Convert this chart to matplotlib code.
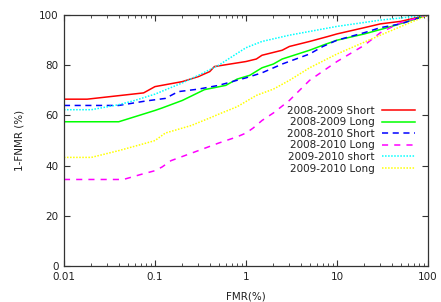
import matplotlib
matplotlib.use("Agg")
import matplotlib.pyplot as plt
from matplotlib.ticker import LogLocator, NullFormatter, FixedLocator

# FMR (%) vs 1-FNMR (%)
fmr_s0809 = [0.01, 0.018, 0.075, 0.1, 0.2, 0.3, 0.4, 0.45, 1, 1.3, 1.5, 2.5, 3, 5, 8, 10, 20, 30, 50, 100]
gar_s0809 = [66.5, 66.5, 69, 71.5, 73.5, 75.5, 77.5, 79.5, 81.5, 82.5, 84, 86, 87.5, 89.5, 91.5, 92.5, 95, 96.5, 97.5, 100]

fmr_l0809 = [0.01, 0.04, 0.1, 0.12, 0.2, 0.35, 0.6, 0.8, 1.1, 1.5, 2, 2.5, 5, 7, 10, 20, 40, 100]
gar_l0809 = [57.5, 57.5, 62, 63, 66, 70.3, 72, 74.5, 76, 79, 80.5, 82.5, 86, 88, 90, 92.5, 95.5, 100]

fmr_s0810 = [0.01, 0.04, 0.08, 0.13, 0.18, 0.3, 0.5, 1, 1.5, 2.5, 5, 7, 10, 20, 30, 50, 100]
gar_s0810 = [64, 64, 65.8, 66.8, 69.5, 70.5, 72, 75, 77, 80.5, 84.5, 87.5, 90, 93, 95, 96.5, 100]

fmr_l0810 = [0.01, 0.045, 0.07, 0.1, 0.12, 0.15, 0.3, 0.5, 0.8, 1, 1.2, 1.5, 2, 3, 5, 10, 20, 30, 50, 100]
gar_l0810 = [34.5, 34.5, 36.5, 38, 39.5, 42, 46, 49, 51.5, 53, 55, 58, 61, 66, 74, 81.5, 88, 93, 97, 100]

fmr_s0910 = [0.01, 0.02, 0.04, 0.06, 0.1, 0.2, 0.3, 0.5, 1, 1.5, 3, 10, 30, 100]
gar_s0910 = [62.3, 62.3, 64.3, 66, 68.5, 73, 76, 80, 87, 89.5, 92, 95.5, 98, 100]

fmr_l0910 = [0.01, 0.02, 0.04, 0.08, 0.1, 0.13, 0.25, 0.4, 0.5, 0.8, 1.3, 2, 3, 5, 10, 30, 100]
gar_l0910 = [43.3, 43.3, 46, 49, 50, 53, 56, 59, 60.5, 63.5, 68, 70.5, 74, 79, 84.5, 92, 100]

labels = ["2008-2009 Short", "2008-2009 Long", "2008-2010 Short",
          "2008-2010 Long", "2009-2010 short", "2009-2010 Long"]

fig = plt.figure(figsize=(4.41, 3.02), dpi=100)
ax = fig.add_axes([0.145, 0.119, 0.8255, 0.831])

ax.plot(fmr_s0809, gar_s0809, color="#ff0000", lw=1.1, label=labels[0])
ax.plot(fmr_l0809, gar_l0809, color="#00ff00", lw=1.1, label=labels[1])
ax.plot(fmr_s0810, gar_s0810, color="#0000ff", lw=1.1, ls=(0, (4, 3)), label=labels[2])
ax.plot(fmr_l0810, gar_l0810, color="#ff00ff", lw=1.1, ls=(0, (4, 4)), label=labels[3])
ax.plot(fmr_s0910, gar_s0910, color="#00ffff", lw=1.1, ls=(0, (1, 1)), label=labels[4])
ax.plot(fmr_l0910, gar_l0910, color="#ffff00", lw=1.1, ls=(0, (1, 1)), label=labels[5])

ax.set_xscale("log")
ax.set_xlim(0.01, 100)
ax.set_ylim(0, 100)
ax.xaxis.set_major_locator(FixedLocator([0.01, 0.1, 1, 10, 100]))
ax.set_xticklabels(["0.01", "0.1", "1", "10", "100"])
ax.xaxis.set_minor_locator(LogLocator(base=10, subs=range(2, 10)))
ax.xaxis.set_minor_formatter(NullFormatter())
ax.set_yticks([0, 20, 40, 60, 80, 100])

for s in ax.spines.values():
    s.set_color("#333333")
    s.set_linewidth(0.9)
ax.tick_params(which="both", direction="in", top=True, right=True,
               colors="#333333", labelsize=7.5, labelcolor="#222222")
ax.tick_params(which="major", length=4, pad=4)
ax.tick_params(which="minor", length=2)

ax.set_xlabel("FMR(%)", fontsize=7.5, color="#222222", labelpad=7)
ax.set_ylabel("1-FNMR (%)", fontsize=7.5, color="#222222", labelpad=10)

leg = ax.legend(loc="upper right", bbox_to_anchor=(0.964, 0.639), frameon=False,
                markerfirst=False, fontsize=7.5, handlelength=3.2,
                handletextpad=0.65, labelspacing=0.15, borderpad=0,
                borderaxespad=0)
for t in leg.get_texts():
    t.set_color("#222222")

fig.savefig("out.png", dpi=100)
